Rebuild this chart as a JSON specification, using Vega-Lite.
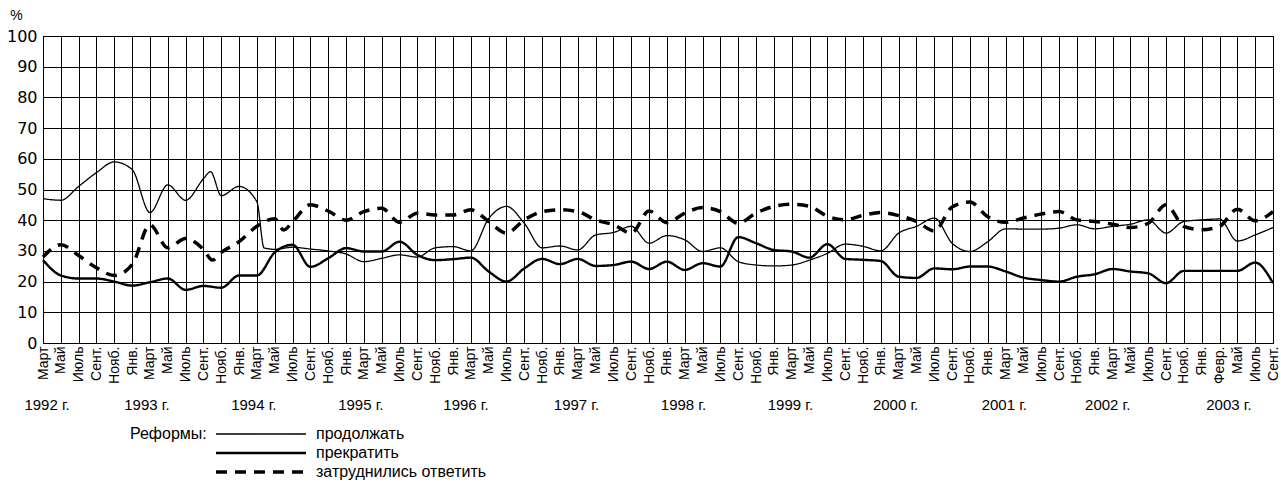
{
  "$schema": "https://vega.github.io/schema/vega-lite/v6.json",
  "width": 1230,
  "height": 307,
  "autosize": {"type": "none"},
  "padding": {"left": 43, "top": 36, "right": 8, "bottom": 142},
  "config": {
    "font": "Liberation Sans",
    "view": {"stroke": "black", "strokeWidth": 1},
    "axis": {"labelColor": "black", "domainColor": "black", "gridColor": "black", "gridOpacity": 1, "gridWidth": 1, "ticks": false, "titleColor": "black"}
  },
  "data": {
    "values": [
      {"i": 0, "продолжать": 47, "прекратить": 27, "затруднились ответить": 28},
      {"i": 1, "продолжать": 46.5, "прекратить": 22, "затруднились ответить": 32},
      {"i": 2, "продолжать": 51, "прекратить": 21, "затруднились ответить": 28.5},
      {"i": 3, "продолжать": 55.5, "прекратить": 21, "затруднились ответить": 24.5},
      {"i": 4, "продолжать": 59, "прекратить": 20, "затруднились ответить": 22},
      {"i": 5, "продолжать": 56.5, "прекратить": 18.7, "затруднились ответить": 25.5},
      {"i": 6, "продолжать": 42.5, "прекратить": 19.8, "затруднились ответить": 38.5},
      {"i": 7, "продолжать": 51.5, "прекратить": 21, "затруднились ответить": 31},
      {"i": 8, "продолжать": 46.5, "прекратить": 17.3, "затруднились ответить": 34},
      {"i": 9, "продолжать": 53.5, "прекратить": 18.6, "затруднились ответить": 30.5},
      {"i": 10, "продолжать": 48, "прекратить": 18, "затруднились ответить": 29.5},
      {"i": 11, "продолжать": 51, "прекратить": 22, "затруднились ответить": 33},
      {"i": 12, "продолжать": 46, "прекратить": 22, "затруднились ответить": 38},
      {"i": 13, "продолжать": 30.5, "прекратить": 29.5, "затруднились ответить": 40.5},
      {"i": 14, "продолжать": 31.2, "прекратить": 32, "затруднились ответить": 39.5},
      {"i": 15, "продолжать": 30.6, "прекратить": 24.8, "затруднились ответить": 45},
      {"i": 16, "продолжать": 30, "прекратить": 27.6, "затруднились ответить": 43},
      {"i": 17, "продолжать": 29, "прекратить": 30.9, "затруднились ответить": 40},
      {"i": 18, "продолжать": 26.5, "прекратить": 29.8, "затруднились ответить": 42.8},
      {"i": 19, "продолжать": 27.6, "прекратить": 29.8, "затруднились ответить": 43.9},
      {"i": 20, "продолжать": 28.7, "прекратить": 33, "затруднились ответить": 39.3},
      {"i": 21, "продолжать": 28, "прекратить": 28.7, "затруднились ответить": 42.3},
      {"i": 22, "продолжать": 31, "прекратить": 27, "затруднились ответить": 41.7},
      {"i": 23, "продолжать": 31.4, "прекратить": 27.3, "затруднились ответить": 41.7},
      {"i": 24, "продолжать": 30, "прекратить": 27.8, "затруднились ответить": 43.4},
      {"i": 25, "продолжать": 40.5, "прекратить": 23.3, "затруднились ответить": 39.6},
      {"i": 26, "продолжать": 44.5, "прекратить": 20, "затруднились ответить": 35.8},
      {"i": 27, "продолжать": 39, "прекратить": 24.3, "затруднились ответить": 40.1},
      {"i": 28, "продолжать": 31, "прекратить": 27.4, "затруднились ответить": 42.8},
      {"i": 29, "продолжать": 31.6, "прекратить": 25.7, "затруднились ответить": 43.4},
      {"i": 30, "продолжать": 30.3, "прекратить": 27.4, "затруднились ответить": 42.8},
      {"i": 31, "продолжать": 35.2, "прекратить": 25.1, "затруднились ответить": 40.1},
      {"i": 32, "продолжать": 36, "прекратить": 25.4, "затруднились ответить": 38.5},
      {"i": 33, "продолжать": 38, "прекратить": 26.5, "затруднились ответить": 35.8},
      {"i": 34, "продолжать": 32.5, "прекратить": 24.1, "затруднились ответить": 43},
      {"i": 35, "продолжать": 35, "прекратить": 26.5, "затруднились ответить": 39.2},
      {"i": 36, "продолжать": 33.6, "прекратить": 23.8, "затруднились ответить": 42.3},
      {"i": 37, "продолжать": 29.8, "прекратить": 26, "затруднились ответить": 44.1},
      {"i": 38, "продолжать": 31, "прекратить": 24.9, "затруднились ответить": 42.8},
      {"i": 39, "продолжать": 26.5, "прекратить": 34.5, "затруднились ответить": 39},
      {"i": 40, "продолжать": 25.4, "прекратить": 32.5, "затруднились ответить": 42.3},
      {"i": 41, "продолжать": 25.1, "прекратить": 30.3, "затруднились ответить": 44.5},
      {"i": 42, "продолжать": 25.4, "прекратить": 29.8, "затруднились ответить": 45.2},
      {"i": 43, "продолжать": 27, "прекратить": 27.8, "затруднились ответить": 44.5},
      {"i": 44, "продолжать": 29.2, "прекратить": 32.2, "затруднились ответить": 41.3},
      {"i": 45, "продолжать": 32.2, "прекратить": 27.4, "затруднились ответить": 40.1},
      {"i": 46, "продолжать": 31.5, "прекратить": 27.1, "затруднились ответить": 41.6},
      {"i": 47, "продолжать": 30, "прекратить": 26.7, "затруднились ответить": 42.5},
      {"i": 48, "продолжать": 35.8, "прекратить": 21.6, "затруднились ответить": 41.5},
      {"i": 49, "продолжать": 38, "прекратить": 21.2, "затруднились ответить": 39.6},
      {"i": 50, "продолжать": 40.7, "прекратить": 24.3, "затруднились ответить": 36.5},
      {"i": 51, "продолжать": 32.5, "прекратить": 24, "затруднились ответить": 44.3},
      {"i": 52, "продолжать": 29.8, "прекратить": 24.9, "затруднились ответить": 45.9},
      {"i": 53, "продолжать": 33, "прекратить": 24.9, "затруднились ответить": 41.1},
      {"i": 54, "продолжать": 37.2, "прекратить": 23.3, "затруднились ответить": 39.3},
      {"i": 55, "продолжать": 37.1, "прекратить": 21.3, "затруднились ответить": 40.7},
      {"i": 56, "продолжать": 37.1, "прекратить": 20.5, "затруднились ответить": 42},
      {"i": 57, "продолжать": 37.4, "прекратить": 20, "затруднились ответить": 42.8},
      {"i": 58, "продолжать": 38.5, "прекратить": 21.6, "затруднились ответить": 40.1},
      {"i": 59, "продолжать": 37.2, "прекратить": 22.4, "затруднились ответить": 39.6},
      {"i": 60, "продолжать": 38, "прекратить": 24.1, "затруднились ответить": 38.7},
      {"i": 61, "продолжать": 38.7, "прекратить": 23.3, "затруднились ответить": 37.6},
      {"i": 62, "продолжать": 40.1, "прекратить": 22.7, "затруднились ответить": 39},
      {"i": 63, "продолжать": 35.8, "прекратить": 19.5, "затруднились ответить": 45},
      {"i": 64, "продолжать": 39.6, "прекратить": 23.5, "затруднились ответить": 38},
      {"i": 65, "продолжать": 40.1, "прекратить": 23.5, "затруднились ответить": 36.9},
      {"i": 66, "продолжать": 40.4, "прекратить": 23.5, "затруднились ответить": 38},
      {"i": 67, "продолжать": 33.2, "прекратить": 23.5, "затруднились ответить": 43.6},
      {"i": 68, "продолжать": 35.2, "прекратить": 26.2, "затруднились ответить": 39.8},
      {"i": 69, "продолжать": 37.6, "прекратить": 19.5, "затруднились ответить": 42.8},
      {"i": 9.4, "продолжать": 55.8},
      {"i": 12.4, "продолжать": 31},
      {"i": 9.5, "затруднились ответить": 27},
      {"i": 13.5, "затруднились ответить": 36.8}
    ]
  },
  "transform": [
    {"fold": ["продолжать", "прекратить", "затруднились ответить"], "as": ["s", "v"]},
    {"filter": "isValid(datum.v)"}
  ],
  "encoding": {
    "y": {
      "field": "v", "type": "quantitative",
      "scale": {"domain": [0, 100], "nice": false, "zero": true},
      "axis": {
        "values": [0, 10, 20, 30, 40, 50, 60, 70, 80, 90, 100],
        "grid": true, "ticks": false, "domain": true,
        "labelPadding": 6, "labelFontSize": 16, "labelFont": "DejaVu Sans",
        "title": "%", "titleAngle": 0, "titleX": -27, "titleY": -17,
        "titleAlign": "center", "titleBaseline": "alphabetic",
        "titleFontSize": 14, "titleFontWeight": "normal", "titleFont": "Liberation Sans"
      }
    },
    "strokeDash": {
      "field": "s", "type": "nominal",
      "scale": {"domain": ["продолжать", "прекратить", "затруднились ответить"], "range": [[1, 0], [1, 0], [11, 8]]},
      "legend": {
        "title": "Реформы:", "orient": "none", "legendX": 87, "legendY": 390,
        "direction": "vertical", "titleOrient": "left", "titleAnchor": "start", "titleFontSize": 16,
        "titleFontWeight": "normal", "titleColor": "black", "titlePadding": 8,
        "labelFontSize": 16, "labelColor": "black", "labelLimit": 400,
        "symbolType": "M-9,0H9", "symbolSize": 100, "symbolOffset": 38,
        "symbolStrokeColor": "black", "labelOffset": 47, "rowPadding": 3
      }
    },
    "strokeWidth": {
      "field": "s", "type": "nominal",
      "scale": {"domain": ["продолжать", "прекратить", "затруднились ответить"], "range": [1.3, 3.5, 3.5]},
      "legend": {"title": "Реформы:"}
    }
  },
  "layer": [
    {
      "transform": [{"filter": "datum.s != 'затруднились ответить'"}],
      "mark": {"type": "line", "interpolate": "monotone", "color": "black", "invalid": "filter"},
      "encoding": {
        "x": {
          "field": "i", "type": "quantitative",
          "scale": {"domain": [0, 69], "nice": false, "zero": false},
          "axis": {
            "orient": "bottom", "title": null,
            "values": [0,1,2,3,4,5,6,7,8,9,10,11,12,13,14,15,16,17,18,19,20,21,22,23,24,25,26,27,28,29,30,31,32,33,34,35,36,37,38,39,40,41,42,43,44,45,46,47,48,49,50,51,52,53,54,55,56,57,58,59,60,61,62,63,64,65,66,67,68,69],
            "labelExpr": "['Март','Май','Июль','Сент.','Нояб.','Янв.','Март','Май','Июль','Сент.','Нояб.','Янв.','Март','Май','Июль','Сент.','Нояб.','Янв.','Март','Май','Июль','Сент.','Нояб.','Янв.','Март','Май','Июль','Сент.','Нояб.','Янв.','Март','Май','Июль','Сент.','Нояб.','Янв.','Март','Май','Июль','Сент.','Нояб.','Янв.','Март','Май','Июль','Сент.','Нояб.','Янв.','Март','Май','Июль','Сент.','Нояб.','Янв.','Март','Май','Июль','Сент.','Нояб.','Янв.','Март','Май','Июль','Сент.','Нояб.','Янв.','Февр.','Май','Июль','Сент.'][datum.value]",
            "labelAngle": 270, "labelAlign": "right", "labelBaseline": "middle",
            "labelPadding": 3, "labelFontSize": 14, "labelFlush": false, "labelOverlap": false, "labelBound": false,
            "grid": true, "ticks": false, "domain": true
          }
        }
      }
    },
    {
      "transform": [{"filter": "datum.s == 'затруднились ответить'"}],
      "mark": {"type": "line", "interpolate": "monotone", "color": "black", "invalid": "filter"},
      "encoding": {
        "x": {
          "field": "i", "type": "quantitative",
          "scale": {"domain": [0, 69], "nice": false, "zero": false},
          "axis": {
            "orient": "bottom", "title": null,
            "values": [0.2, 5.8, 11.8, 17.8, 23.7, 29.9, 35.9, 41.9, 47.8, 53.9, 59.7, 66.5],
            "labelExpr": "(1992 + round((datum.value + 0.5) / 6)) + ' г.'",
            "labelAngle": 0, "labelAlign": "center", "labelBaseline": "top",
            "labelPadding": 54, "labelFontSize": 15, "labelFlush": false, "labelOverlap": false, "labelBound": false,
            "grid": false, "ticks": false, "domain": false
          }
        }
      }
    }
  ],
  "resolve": {"axis": {"x": "independent"}}
}
